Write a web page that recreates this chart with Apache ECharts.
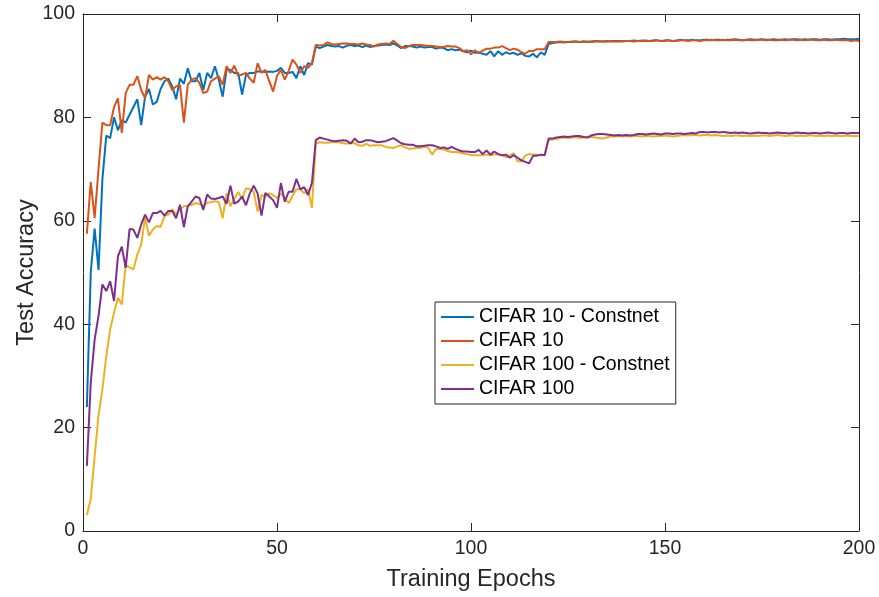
<!DOCTYPE html>
<html>
<head>
<meta charset="utf-8">
<script src="https://cdn.jsdelivr.net/npm/echarts@6/dist/echarts.min.js"></script>
<style>
html,body{margin:0;padding:0;background:#fff;}
#chart{width:879px;height:597px;}
</style>
</head>
<body>
<div id="chart"></div>
<script>
// Epoch-by-epoch test accuracy (epochs 1..200)
const seriesNames = ['CIFAR 10 - Constnet', 'CIFAR 10', 'CIFAR 100 - Constnet', 'CIFAR 100'];
const xTicks = [0, 50, 100, 150, 200];
const yTicks = [0, 20, 40, 60, 80, 100];

const cifar10Constnet = [
  24,50,58.5,50.5,68,76.5,76,80,77.5,79.5,
  79,80.5,82,83.5,78.5,84,85.5,82.5,83,85.5,
  87,87.5,86,83.5,87.5,86.5,89.5,87,87,88.6,
  85.3,88.6,87.6,89.9,87.3,84,89.2,89.2,88.6,88.6,
  84.4,88.2,88.6,88.6,88.9,88.9,88.8,88.9,88.8,89,
  89.6,88.6,88.6,88.8,87.6,89.9,88.2,90.5,90.2,93.7,
  93.4,93.7,94,93.8,93.7,93.8,93.5,93.9,94,93.8,
  93.9,93.6,93.9,93.6,93.8,93.9,94,94.1,94,94.3,
  93.9,93.4,93.8,93.8,93.7,93.5,93.7,93.5,93.6,93.6,
  93.3,93.5,93.4,93,93.2,93,93.1,92.8,92.6,92.9,
  92.5,92.6,92.3,92.1,92.8,91.8,92.8,92.1,92.6,92.3,
  92.5,92.1,92.4,91.9,91.8,92.3,91.6,92.6,92.1,94.2,
  94.4,94.5,94.6,94.5,94.6,94.6,94.7,94.6,94.7,94.6,
  94.7,94.8,94.7,94.7,94.8,94.7,94.8,94.8,94.7,94.8,
  94.8,94.9,94.8,94.8,94.9,94.8,94.9,94.9,94.8,94.9,
  94.9,94.8,94.9,95.0,94.9,94.9,95.0,94.9,94.9,95.0,
  95.0,94.9,95.0,95.0,94.9,95.0,95.0,95.1,95.0,94.9,
  95.0,95.1,95.0,95.0,95.1,95.0,95.0,95.1,95.0,95.0,
  95.1,95.0,95.1,95.1,95.0,95.1,95.0,95.1,95.1,95.0,
  95.1,95.1,95.0,95.1,95.1,95.2,95.1,95.1,95.1,95.2
];

const cifar10 = [
  57.5,67.5,60.5,70,79,78.5,78.5,82,83.7,77,
  84.7,86.3,86.3,88,85.3,83.7,88.2,87.3,87.8,87.3,
  87.8,87,85.3,86,86.3,79,86.3,87.3,87.6,86.7,
  84.7,85,87,87.5,88,86.3,89.9,88.6,90,88,
  88.3,88.6,87.5,86.7,90.5,88.6,89.2,87,85,88,
  89.2,87.3,89,91.2,90.2,88.6,89.9,89.6,90.5,94,
  93.9,94,94.5,94.2,94.1,94.2,94.3,94.3,94.2,94.2,
  94.1,94.3,94.1,94,93.7,94.1,94.2,94.3,94.2,94.8,
  94.2,93.6,93.4,93.8,94,94,94,93.9,93.8,93.8,
  93.7,93.6,93.6,93.8,93.7,93.7,93.4,92.8,93,92.2,
  93,92.4,92.9,93.3,93.3,93.5,93.5,93.8,93.4,93,
  93.3,93.1,92.6,92.3,92.9,92.8,93.2,93.2,93.2,94.6,
  94.6,94.6,94.7,94.6,94.6,94.7,94.7,94.6,94.7,94.7,
  94.6,94.7,94.8,94.7,94.7,94.8,94.7,94.7,94.8,94.8,
  94.8,94.7,94.8,94.9,94.8,94.8,94.8,94.9,94.8,94.8,
  94.9,94.8,94.8,94.9,94.9,94.8,94.9,94.9,94.8,94.9,
  94.9,95.0,94.9,94.9,95.0,94.9,94.9,95.0,94.9,94.9,
  95.0,94.9,94.9,95.0,95.0,94.9,95.0,94.9,94.9,95.0,
  94.9,95.0,95.0,94.9,95.0,94.9,95.0,95.0,94.9,94.9,
  95.0,94.9,94.9,95.0,94.9,94.9,94.9,94.8,94.9,94.8
];

const cifar100Constnet = [
  3.1,6.2,14.5,22.3,27.4,33.8,39,42.2,45.1,43.8,
  51.5,51,50.6,53.5,55.4,60.6,57.1,58.3,59,58.8,
  60.9,61.2,62.2,61.3,62.2,62.8,62.9,63.1,63.4,63.3,
  62.8,63.5,63.6,63.8,63.6,60.5,65.3,62.8,64.2,65.6,
  64.2,66.3,66.1,65.6,61.8,65,64.7,65.3,65,64.4,
  65.3,64.4,63.4,64.8,66.1,66.1,65.3,66.1,62.5,75,
  75.2,75.1,75.1,75.2,75.2,75.2,75,74.9,75.2,75,
  74.6,74.5,74.9,74.5,74.6,74.6,74.6,74.3,74.2,74.1,
  74.4,74.6,74.2,73.9,74,74.1,74.1,74.3,74.1,72.8,
  73.9,73.9,73.8,73.5,73.3,73.3,73.2,73,72.9,72.7,
  72.7,72.7,72.7,72.8,72.7,72.8,72.8,72.7,72.3,72.6,
  73.1,71.5,71.5,72.6,72.9,72.8,72.8,72.6,72.8,75.7,
  75.7,75.8,76.0,76.1,76.0,76.1,76.2,76.0,76.1,76.2,
  76.2,76.1,76.0,75.9,76.1,76.3,76.3,76.4,76.3,76.4,
  76.3,76.4,76.4,76.3,76.4,76.4,76.3,76.4,76.4,76.5,
  76.4,76.3,76.4,76.5,76.6,76.5,76.6,76.6,76.5,76.6,
  76.6,76.5,76.6,76.5,76.4,76.5,76.4,76.5,76.5,76.4,
  76.5,76.4,76.5,76.4,76.5,76.5,76.4,76.5,76.6,76.5,
  76.4,76.5,76.5,76.4,76.5,76.4,76.5,76.5,76.4,76.5,
  76.4,76.5,76.4,76.5,76.4,76.4,76.5,76.4,76.4,76.4
];

const cifar100 = [
  12.6,28.7,37,41.6,47.7,46.4,48.3,44.5,53.1,55,
  50.9,58.4,58.3,56.7,59.3,61.2,59.7,61.5,61.5,61.9,
  61,61.9,61.9,60.5,63.1,58.8,62.8,63.7,64.7,64.4,
  62.1,65.1,64.3,64.2,64.4,64.7,63.3,66.8,63.3,63.7,
  64.7,63,65.3,66.8,65.3,61,65.4,64.7,64,62.5,
  67.3,63.7,65.6,65.6,68.1,66.1,66.5,65,67.3,75.6,
  76.1,75.9,75.7,75.5,75.4,75.5,75.6,75.5,74.9,75.9,
  75.2,75.3,75.6,75.6,75.4,75.2,75.3,75.4,75.7,76,
  75.5,75,74.8,74.7,74.7,74.4,74.4,74.5,74.6,74.6,
  74.4,74.1,74.2,73.9,74.3,73.9,73.6,73.4,73.4,73.3,
  73.3,73.7,72.9,73.6,72.8,73.4,72.9,72.7,72.8,72.2,
  72.7,72.2,71.7,71.4,71.1,72.6,72.6,72.8,72.7,75.9,
  75.9,76.1,76.2,76.3,76.2,76.3,76.4,76.4,76.2,76.1,
  76.5,76.7,76.8,76.8,76.7,76.6,76.5,76.6,76.5,76.6,
  76.5,76.6,76.8,76.8,76.7,76.8,76.9,76.8,76.7,76.9,
  76.9,76.8,76.9,76.9,76.8,76.9,77.0,76.9,77.2,77.2,
  77.1,77.2,77.2,77.1,77.2,77.1,77.0,77.1,77.0,77.1,
  77.0,76.9,77.0,77.1,77.0,77.0,76.9,77.0,77.1,77.0,
  77.0,76.9,77.0,77.1,77.0,77.0,76.9,77.0,77.0,76.9,
  77.0,77.1,77.0,76.9,77.0,77.0,76.9,77.0,77.0,77.0
];

const colors = ['#0072BD', '#D95319', '#EDB120', '#7E2F8E'];
const allData = [cifar10Constnet, cifar10, cifar100Constnet, cifar100];

const axisColor = '#262626';
const fontFam = '"Liberation Sans", Arial, Helvetica, sans-serif';

const chart = echarts.init(document.getElementById('chart'), null, {renderer: 'canvas'});

function mkX(pos, showLabels) {
  return {
    type: 'value', position: pos, min: xTicks[0], max: xTicks[xTicks.length-1], interval: 50,
    axisLine: {show: true, onZero: false, lineStyle: {color: axisColor, width: 1}},
    axisTick: {show: true, inside: true, length: 8, lineStyle: {color: axisColor}},
    axisLabel: {show: showLabels, color: axisColor, fontSize: 19.5, fontFamily: fontFam, margin: 8},
    splitLine: {show: false},
    name: showLabels ? 'Training Epochs' : '',
    nameLocation: 'middle', nameGap: 37, nameMoveOverlap: false,
    nameTextStyle: {color: axisColor, fontSize: 23.5, fontFamily: fontFam}
  };
}
function mkY(pos, showLabels) {
  return {
    type: 'value', position: pos, min: yTicks[0], max: yTicks[yTicks.length-1], interval: 20,
    axisLine: {show: true, onZero: false, lineStyle: {color: axisColor, width: 1}},
    axisTick: {show: true, inside: true, length: 8, lineStyle: {color: axisColor}},
    axisLabel: {show: showLabels, color: axisColor, fontSize: 19.5, fontFamily: fontFam, margin: 8},
    splitLine: {show: false},
    name: showLabels ? 'Test Accuracy' : '',
    nameLocation: 'middle', nameGap: 44, nameRotate: 90, nameMoveOverlap: false,
    nameTextStyle: {color: axisColor, fontSize: 23.5, fontFamily: fontFam}
  };
}

chart.setOption({
  animation: false,
  backgroundColor: '#ffffff',
  grid: {left: 83, right: 20, top: 14, bottom: 65, containLabel: false},
  xAxis: [mkX('bottom', true), mkX('top', false)],
  yAxis: [mkY('left', true), mkY('right', false)],
  legend: {
    orient: 'vertical', left: 435, top: 302,
    data: seriesNames,
    itemWidth: 33, itemHeight: 20, itemGap: 4,
    padding: [5, 6, 5, 6],
    borderColor: axisColor, borderWidth: 1, backgroundColor: '#fff',
    textStyle: {color: '#000', fontSize: 19.5, fontFamily: fontFam},
    icon: 'path://M0,0 L33,0 L33,2.2 L0,2.2 Z'
  },
  series: allData.map((arr, i) => ({
    name: seriesNames[i],
    type: 'line',
    symbol: 'none',
    xAxisIndex: 0, yAxisIndex: 0,
    data: arr.map((v, k) => [k + 1, v]),
    lineStyle: {color: colors[i], width: 2},
    itemStyle: {color: colors[i]},
    z: 2 + i
  }))
});
</script>
</body>
</html>
